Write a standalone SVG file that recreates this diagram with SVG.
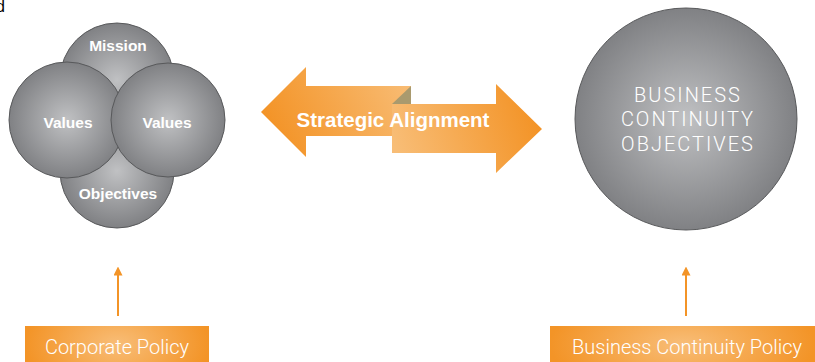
<svg xmlns="http://www.w3.org/2000/svg" width="815" height="362" viewBox="0 0 815 362">
<defs>
<radialGradient id="gray" cx="50%" cy="50%" r="50%">
<stop offset="0" stop-color="#c0c1c3"/>
<stop offset="1" stop-color="#808184"/>
</radialGradient>
<radialGradient id="box" cx="50%" cy="50%" r="50%" gradientTransform="translate(0.5 0.5) scale(1 3) translate(-0.5 -0.5)">
<stop offset="0" stop-color="#f8bd77"/>
<stop offset="1" stop-color="#f39427"/>
</radialGradient>
<linearGradient id="gl" x1="0" y1="0.6" x2="1" y2="0.3">
<stop offset="0" stop-color="#f39224"/>
<stop offset="1" stop-color="#f8bb72"/>
</linearGradient>
<linearGradient id="gr" x1="0" y1="0.6" x2="1" y2="0.4">
<stop offset="0" stop-color="#f8bd76"/>
<stop offset="1" stop-color="#f39224"/>
</linearGradient>
<marker id="ah" viewBox="0 0 10 10" refX="5" refY="5" markerWidth="9" markerHeight="9" orient="auto" markerUnits="userSpaceOnUse">
<path d="M0,0 L10,5 L0,10 Z" fill="#f39427"/>
</marker>
</defs>
<style>
.c{fill:url(#gray);stroke:#58595b;stroke-width:1}
.t{font-family:"Liberation Sans",Arial,sans-serif;font-weight:bold;font-size:15.5px;fill:#fff;text-anchor:middle}
.big{font-family:Roboto,"Liberation Sans",sans-serif;font-weight:300;font-size:20px;fill:#fff;text-anchor:middle;letter-spacing:2px}
.p{font-family:Roboto,"Liberation Sans",sans-serif;font-weight:300;font-size:20px;fill:#fff;text-anchor:middle}
.ln{stroke:#f39427;stroke-width:2;fill:none}
</style>
<text x="-4" y="12" font-family="Liberation Sans, sans-serif" font-size="16" fill="#000">d</text>
<g id="mission"><circle class="c" cx="117" cy="80" r="57"/><text class="t" x="118" y="51">Mission</text></g>
<g id="objectives"><circle class="c" cx="117" cy="171" r="57"/><text class="t" x="118" y="199">Objectives</text></g>
<g id="values-left"><circle class="c" cx="67" cy="120" r="58"/><text class="t" x="68" y="128">Values</text></g>
<g id="values-right"><circle class="c" cx="168" cy="120" r="57"/><text class="t" x="167" y="128">Values</text></g>
<g id="strategic-alignment">
<path d="M261,112 L306,67 L306,86 L411,86 L411,136 L306,136 L306,157 Z" fill="url(#gl)"/>
<path d="M392,104 L411,86 L411,104 Z" fill="#a99a6e"/>
<path d="M392,104 L496,104 L496,84 L542,129 L496,173 L496,153 L392,153 Z" fill="url(#gr)"/>
<text x="393" y="127" font-family="Liberation Sans, Arial, sans-serif" font-weight="bold" font-size="20.5" fill="#fff" text-anchor="middle">Strategic Alignment</text>
</g>
<g id="bc-objectives">
<circle class="c" cx="686" cy="119" r="111"/>
<text class="big" x="688" y="102">BUSINESS</text>
<text class="big" x="688" y="126">CONTINUITY</text>
<text class="big" x="688" y="151">OBJECTIVES</text>
</g>
<g id="connectors">
<line class="ln" x1="118" y1="316" x2="118" y2="271" marker-end="url(#ah)"/>
<line class="ln" x1="686" y1="316" x2="686" y2="271" marker-end="url(#ah)"/>
</g>
<g id="corporate-policy">
<rect x="25" y="326" width="184" height="36" fill="url(#box)"/>
<text class="p" x="117" y="354">Corporate Policy</text>
</g>
<g id="bc-policy">
<rect x="550" y="326" width="265" height="36" fill="url(#box)"/>
<text class="p" x="687" y="354">Business Continuity Policy</text>
</g>
</svg>
